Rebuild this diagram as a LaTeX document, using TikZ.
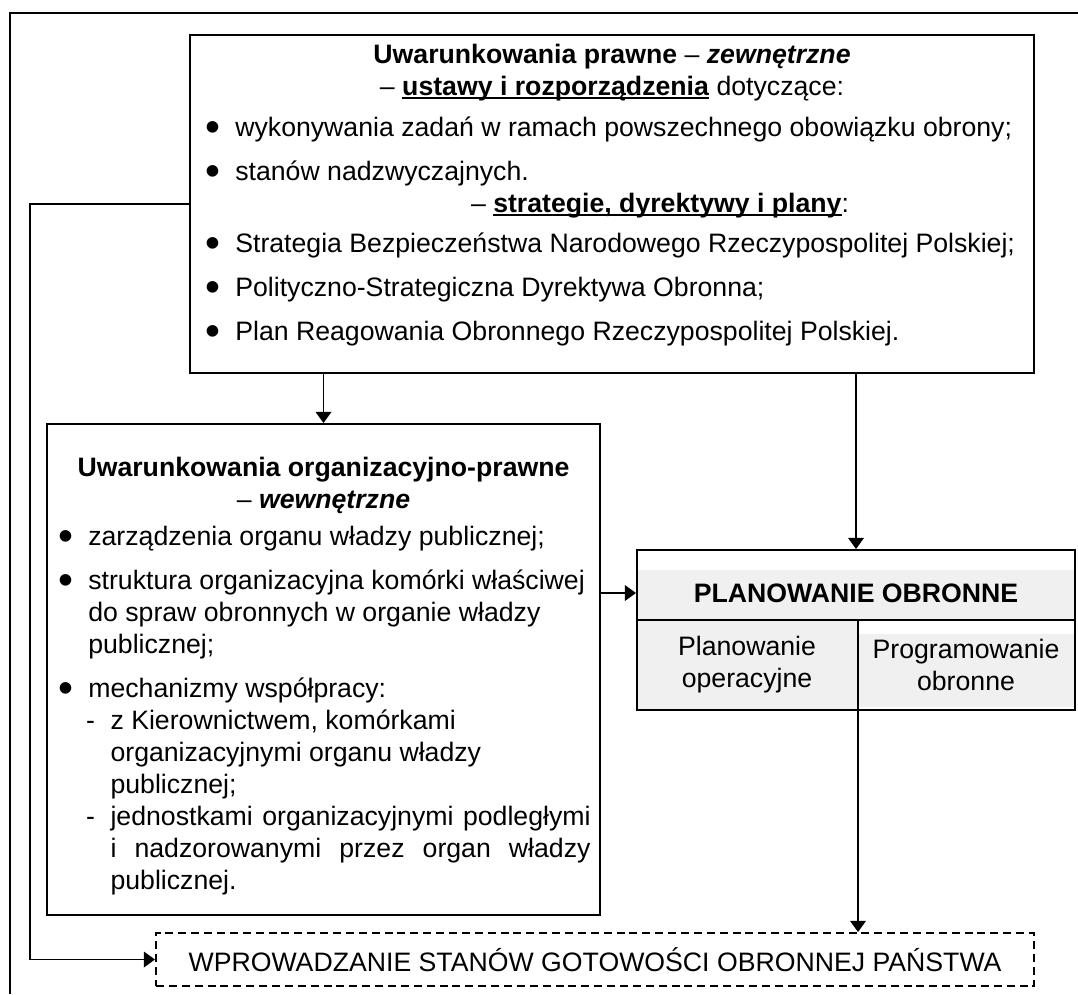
\documentclass[tikz,border=0pt]{standalone}
\usepackage{fontspec}
\setmainfont{Liberation Sans}
\usetikzlibrary{arrows.meta}
\definecolor{szary}{HTML}{F0F0F0}
\newcommand{\kropka}{\raisebox{-2.4pt}{\scalebox{1.6}{\textbullet}}}
\newcommand{\punkt}[1]{\par\setlength{\parskip}{5.4pt}\hangindent=13pt\hangafter=1\noindent\makebox[13pt][l]{\hspace*{-0.6pt}\kropka}#1\par}
\newcommand{\podpunkt}[1]{\par\setlength{\parskip}{0pt}\hangindent=23pt\hangafter=1\noindent\hspace*{12pt}\makebox[11pt][l]{-}#1\par}
\newcommand{\podkresl}[1]{\setbox0\hbox{#1}\rlap{\rule[-1.6pt]{\wd0}{0.6pt}}\box0\relax}
\tikzset{
  ramka/.style={draw, line width=0.9pt, inner sep=0pt},
  tekst/.style={inner sep=0pt, anchor=base west},
  strzalka/.style={line width=0.8pt, -{Triangle[length=5pt,width=7pt]}}
}
\begin{document}
\begin{tikzpicture}[x=0.45pt, y=-0.45pt, font=\fontsize{12}{14.4}\selectfont]
\useasboundingbox (0,0) rectangle (1078,994);
\draw[line width=0.9pt] (10,994) -- (10,13) -- (1078,13);

\node[ramka, minimum width=379.8pt, minimum height=152.1pt] (prawne) at (612,204) {};
\node[inner sep=0pt, anchor=base] (prawneTytul) at (612,63) {\parbox[t]{380pt}{\centering
  \textbf{Uwarunkowania prawne} -- \textbf{\textit{zewnętrzne}}\\
  -- \podkresl{\textbf{ustawy i rozporządzenia}} dotyczące:}};
\node[tekst] (prawneUstawy) at (206,136) {\parbox[t]{390pt}{%
  \punkt{wykonywania zadań w ramach powszechnego obowiązku obrony;}
  \punkt{stanów nadzwyczajnych.}}};
\node[inner sep=0pt, anchor=base] (prawneStrategie) at (660,212) {-- \podkresl{\textbf{strategie, dyrektywy i plany}}:};
\node[tekst] (prawnePlany) at (206,252) {\parbox[t]{390pt}{%
  \punkt{Strategia Bezpieczeństwa Narodowego Rzeczypospolitej Polskiej;}
  \punkt{Polityczno-Strategiczna Dyrektywa Obronna;}
  \punkt{Plan Reagowania Obronnego Rzeczypospolitej Polskiej.}}};

\node[ramka, minimum width=248.85pt, minimum height=220.95pt] (organizacyjne) at (323.5,669.5) {};
\node[inner sep=0pt, anchor=base] (organizacyjneTytul) at (323.5,476) {\parbox[t]{248pt}{\centering
  \textbf{Uwarunkowania organizacyjno-prawne}\\
  -- \textbf{\textit{wewnętrzne}}}};
\node[tekst] (organizacyjneLista) at (59,545) {\parbox[t]{260pt}{%
  \punkt{zarządzenia organu władzy publicznej;}
  \punkt{struktura organizacyjna komórki właściwej\\ do spraw obronnych w organie władzy\\ publicznej;}
  \punkt{mechanizmy współpracy:}
  \podpunkt{z Kierownictwem, komórkami\\ organizacyjnymi organu władzy\\ publicznej;}
  \podpunkt{\makebox[216pt][s]{jednostkami organizacyjnymi podległymi}\\
    \makebox[216pt][s]{i nadzorowanymi przez organ władzy}\\ publicznej.}}};

\fill[szary] (637,570) rectangle (1075,620);
\fill[szary] (637,620) rectangle (858,710);
\fill[szary] (858,634) rectangle (1075,707);
\node[ramka, minimum width=197.1pt, minimum height=72pt] (planowanie) at (856,630) {};
\coordinate (podzialGora) at (858,620);
\coordinate (podzialDol) at (858,710);
\draw[line width=0.9pt] (planowanie.west |- podzialGora) -- (planowanie.east |- podzialGora);
\draw[line width=0.9pt] (podzialGora) -- (podzialDol);
\node (naglowek) at (856,593) {\textbf{PLANOWANIE OBRONNE}};
\node[align=center] (operacyjne) at (747,665) {Planowanie\\operacyjne};
\node[align=center] (programowanie) at (966,665) {Programowanie\\obronne};

\node[ramka, dash pattern=on 3.6pt off 2.2pt, minimum width=395.1pt, minimum height=23.85pt] (wprowadzanie) at (595,959.5) {WPROWADZANIE STANÓW GOTOWOŚCI OBRONNEJ PAŃSTWA};

\coordinate (zakret) at (30,204);
\draw[strzalka] (organizacyjne.north |- prawne.south) -- (organizacyjne.north);
\draw[strzalka] (planowanie.north |- prawne.south) -- (planowanie.north);
\draw[strzalka] (organizacyjne.east |- naglowek) -- (planowanie.west |- naglowek);
\draw[strzalka] (podzialDol) -- (podzialDol |- wprowadzanie.north);
\draw[strzalka] (prawne.west) -- (zakret) |- (wprowadzanie.west);
\end{tikzpicture}
\end{document}
